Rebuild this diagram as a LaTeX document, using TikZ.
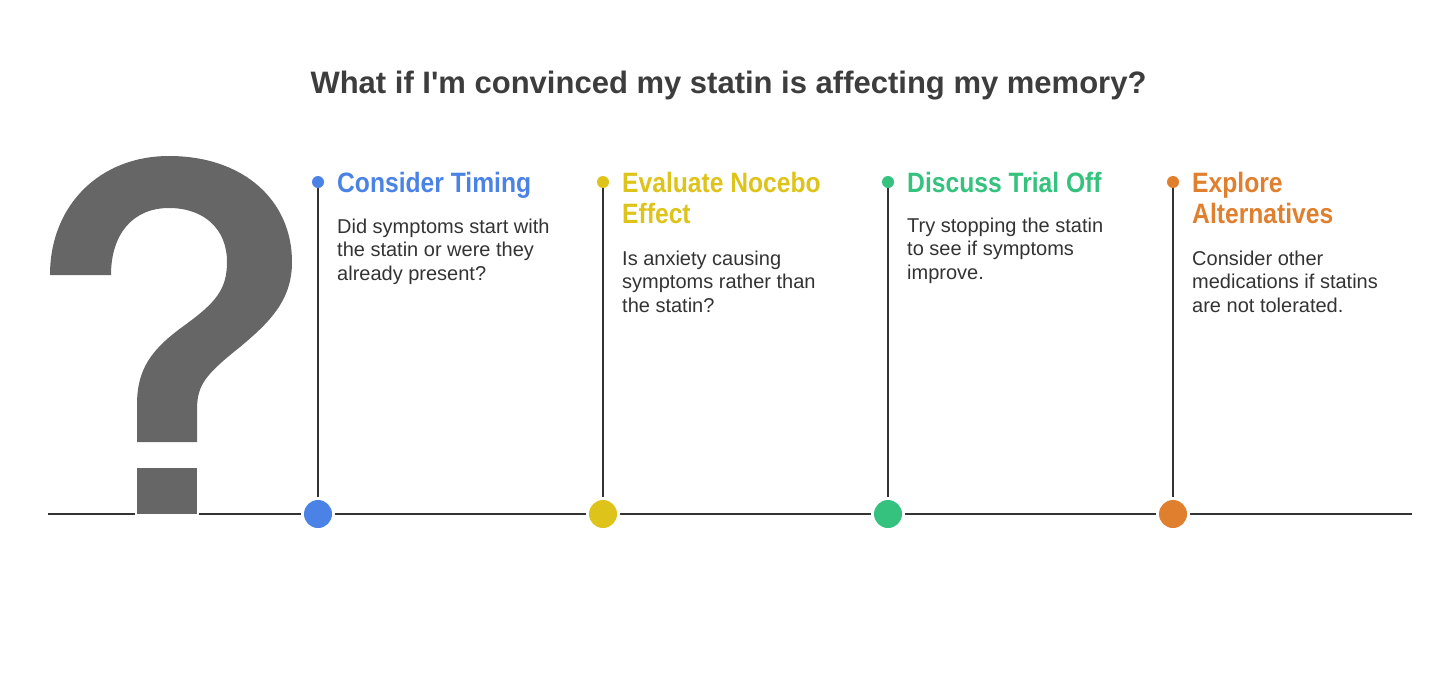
\documentclass[tikz,border=0pt]{standalone}
\usepackage{fontspec}
\setmainfont{Liberation Sans}
\newfontfamily\headfont[FakeStretch=0.88]{Liberation Sans}
\usetikzlibrary{backgrounds}
\definecolor{cblue}{HTML}{4A82E6}
\definecolor{cyellow}{HTML}{DDC31A}
\definecolor{cgreen}{HTML}{35C27E}
\definecolor{corange}{HTML}{E07F2D}
\definecolor{linec}{HTML}{333333}
\definecolor{textc}{HTML}{333333}
\definecolor{titlec}{HTML}{3D3D3D}
\definecolor{qgray}{HTML}{666666}
\tikzset{
  conn/.style={draw=linec, line width=2.5pt},
  bigdot/.style={circle, minimum size=28pt, inner sep=0pt, fill=#1,
    preaction={draw=white, line width=6pt}},
  smalldot/.style={circle, minimum size=12pt, inner sep=0pt, fill=#1},
  head/.style={text=#1, inner sep=0pt, align=left,
    font=\headfont\bfseries\fontsize{28}{31}\selectfont},
  body/.style={text=textc, inner sep=0pt, align=left,
    font=\fontsize{20}{23.5}\selectfont},
  qdot/.style={rectangle, minimum width=60pt, minimum height=46pt, inner sep=0pt,
    fill=qgray, preaction={draw=white, line width=4pt}},
}
\begin{document}
\begin{tikzpicture}[x=1pt,y=-1pt]
\useasboundingbox (0,0) rectangle (1456,673);
% title
\node[anchor=base, text=titlec, inner sep=0pt, font=\bfseries\fontsize{31}{36}\selectfont]
  (title) at (728.5,93) {What if I\textquotesingle m convinced my statin is affecting my memory?};
% timeline ends
\coordinate (L) at (48,514);
\coordinate (R) at (1412,514);
% question mark
\fill[qgray] (137,442) -- (137,405)
  .. controls (137,370) and (150,350) .. (185,325)
  .. controls (215,303) and (227,290) .. (227,262)
  .. controls (227,228) and (203,208) .. (169,208)
  .. controls (132,208) and (111,235) .. (111,275)
  -- (50,275)
  .. controls (50,205) and (100,156) .. (169,156)
  .. controls (243,156) and (292,200) .. (292,262)
  .. controls (292,300) and (270,322) .. (240,347)
  .. controls (205,375) and (197,385) .. (197,410)
  -- (197,442) -- cycle;
\node[qdot] (qd) at (167,491) {};
% columns
\node[smalldot=cblue] (s1) at (318,182) {};
\node[bigdot=cblue] (b1) at (318,514) {};
\node[smalldot=cyellow] (s2) at (603,182) {};
\node[bigdot=cyellow] (b2) at (603,514) {};
\node[smalldot=cgreen] (s3) at (888,182) {};
\node[bigdot=cgreen] (b3) at (888,514) {};
\node[smalldot=corange] (s4) at (1173,182) {};
\node[bigdot=corange] (b4) at (1173,514) {};
\begin{scope}[on background layer]
  \draw[conn] (L) -- (R);
  \draw[conn] (s1.center) -- (b1.center);
  \draw[conn] (s2.center) -- (b2.center);
  \draw[conn] (s3.center) -- (b3.center);
  \draw[conn] (s4.center) -- (b4.center);
\end{scope}
% headings (base anchor = baseline of last line)
\node[head=cblue, anchor=base west] (h1) at (337,192) {Consider Timing};
\node[head=cyellow, anchor=base west] (h2) at (622,223) {Evaluate Nocebo\\Effect};
\node[head=cgreen, anchor=base west] (h3) at (907,192) {Discuss Trial Off};
\node[head=corange, anchor=base west] (h4) at (1192,223) {Explore\\Alternatives};
% bodies
\node[body, anchor=base west] (t1) at (337,280) {Did symptoms start with\\the statin or were they\\already present?};
\node[body, anchor=base west] (t2) at (622,312) {Is anxiety causing\\symptoms rather than\\the statin?};
\node[body, anchor=base west] (t3) at (907,279) {Try stopping the statin\\to see if symptoms\\improve.};
\node[body, anchor=base west] (t4) at (1192,312) {Consider other\\medications if statins\\are not tolerated.};
\end{tikzpicture}
\end{document}
